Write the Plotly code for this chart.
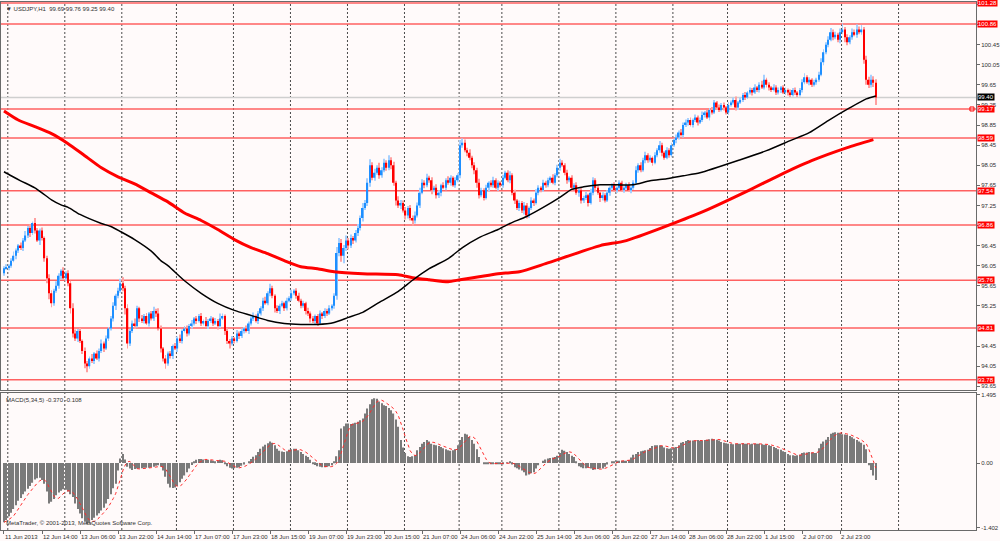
import numpy as np
import pandas as pd
import plotly.graph_objects as go

# USDJPY H1, one value per hourly bar (bar 0 = 11 Jun 22:00)
first_open = 95.90
closes = [
    96.00, 96.02, 96.05, 96.15, 96.25, 96.35, 96.45, 96.40, 96.55, 96.65,
    96.80, 96.70, 96.90, 96.75, 96.55, 96.75, 96.60, 96.20, 95.80, 95.50,
    95.30, 95.55, 95.65, 95.85, 95.95, 95.80, 95.90, 95.70, 95.20, 94.70,
    94.60, 94.75, 94.55, 94.35, 94.10, 94.05, 94.20, 94.15, 94.30, 94.20,
    94.35, 94.50, 94.40, 94.60, 94.80, 95.00, 95.25, 95.45, 95.55, 95.70,
    95.60, 95.20, 94.50, 94.75, 94.90, 94.85, 95.20, 95.00, 94.95, 95.05,
    94.90, 95.10, 95.00, 95.15, 95.10, 94.80, 94.40, 94.20, 94.10, 94.30,
    94.25, 94.45, 94.40, 94.60, 94.55, 94.75, 94.80, 94.70, 94.85, 94.90,
    95.00, 94.95, 95.05, 94.90, 94.95, 94.85, 94.95, 95.00, 94.90, 94.95,
    94.85, 95.00, 95.05, 94.75, 94.55, 94.50, 94.60, 94.55, 94.70, 94.65,
    94.75, 94.80, 94.75, 94.90, 95.00, 95.05, 94.95, 95.10, 95.20, 95.35,
    95.30, 95.50, 95.60, 95.45, 95.20, 95.15, 95.25, 95.30, 95.20, 95.35,
    95.40, 95.50, 95.55, 95.45, 95.35, 95.25, 95.30, 95.15, 95.10, 95.00,
    94.95, 95.05, 94.90, 95.10, 95.05, 95.15, 95.10, 95.20, 95.25, 95.45,
    96.30, 96.50, 96.25, 96.40, 96.55, 96.45, 96.60, 96.55, 96.70, 96.80,
    97.00, 97.20, 97.30, 97.70, 98.05, 97.80, 97.90, 98.00, 97.85, 97.95,
    98.10, 98.00, 98.15, 98.05, 97.70, 97.35, 97.25, 97.30, 97.15, 97.05,
    97.20, 97.00, 96.95, 97.05, 97.25, 97.50, 97.70, 97.65, 97.80, 97.75,
    97.55, 97.60, 97.45, 97.50, 97.65, 97.60, 97.75, 97.70, 97.80, 97.65,
    97.75, 97.85, 98.45, 98.50, 98.35, 98.30, 98.20, 98.05, 97.95, 97.70,
    97.45, 97.55, 97.40, 97.60, 97.70, 97.65, 97.75, 97.60, 97.70, 97.65,
    97.80, 97.90, 97.75, 97.85, 97.50, 97.35, 97.20, 97.30, 97.15, 97.25,
    97.05, 97.20, 97.35, 97.30, 97.50, 97.60, 97.55, 97.70, 97.65, 97.75,
    97.80, 97.70, 97.85, 98.00, 98.10, 98.05, 97.90, 97.75, 97.80, 97.60,
    97.65, 97.50, 97.55, 97.35, 97.40, 97.45, 97.30, 97.50, 97.75, 97.60,
    97.50, 97.40, 97.45, 97.35, 97.50, 97.60, 97.65, 97.55, 97.60, 97.70,
    97.55, 97.60, 97.65, 97.55, 97.60, 97.70, 97.95, 98.05, 97.95, 98.15,
    98.25, 98.15, 98.20, 98.10, 98.25, 98.35, 98.45, 98.30, 98.20, 98.35,
    98.25, 98.45, 98.55, 98.60, 98.70, 98.65, 98.85, 98.90, 98.95, 98.85,
    98.95, 99.00, 98.90, 98.95, 99.05, 99.10, 99.00, 99.15, 99.10, 99.30,
    99.20, 99.15, 99.25, 99.20, 99.10, 99.25, 99.30, 99.35, 99.20, 99.30,
    99.35, 99.45, 99.40, 99.50, 99.55, 99.50, 99.60, 99.55, 99.65, 99.60,
    99.75, 99.65, 99.60, 99.55, 99.60, 99.50, 99.55, 99.60, 99.50, 99.55,
    99.50, 99.45, 99.55, 99.50, 99.45, 99.55, 99.70, 99.80, 99.70, 99.75,
    99.65, 99.70, 99.75, 99.85, 100.10, 100.30, 100.45, 100.55, 100.70, 100.60,
    100.65, 100.55, 100.70, 100.75, 100.60, 100.50, 100.60, 100.70, 100.65, 100.75,
    100.70, 100.75, 100.15, 99.75, 99.65, 99.75, 99.69, 99.40,
]
# wick lengths in pips above / below the candle body
up_wick = [
    4, 6, 3, 5, 8, 4, 3, 6, 5, 9, 4, 7, 3, 10, 5, 4, 6, 3, 5, 8,
    6, 4, 9, 5, 3, 7, 4, 6, 5, 10, 8, 4, 6, 3, 7, 5, 4, 9, 3, 6,
    5, 8, 4, 6, 3, 5, 7, 4, 6, 9, 12, 5, 8, 4, 6, 10, 5, 3, 7, 4,
    6, 3, 5, 8, 4, 10, 6, 3, 7, 4, 5, 3, 6, 4, 8, 3, 5, 6, 4, 7,
    3, 5, 4, 6, 3, 8, 4, 5, 3, 6, 4, 10, 5, 3, 6, 4, 5, 3, 7, 4,
    5, 3, 6, 4, 5, 7, 3, 5, 4, 6, 8, 4, 9, 5, 3, 6, 4, 5, 3, 6,
    4, 7, 3, 5, 6, 4, 5, 3, 6, 4, 5, 3, 4, 6, 3, 5, 4, 6, 3, 5,
    12, 10, 8, 6, 10, 5, 7, 4, 6, 8, 5, 10, 6, 9, 12, 6, 8, 5, 10, 6,
    8, 5, 10, 6, 7, 4, 8, 6, 5, 7, 4, 6, 5, 8, 6, 10, 7, 5, 8, 4,
    6, 4, 7, 5, 3, 6, 4, 8, 5, 3, 6, 4, 10, 8, 6, 5, 7, 4, 6, 5,
    8, 5, 4, 6, 3, 5, 7, 4, 5, 3, 6, 4, 5, 8, 4, 6, 3, 5, 4, 7,
    5, 3, 6, 4, 7, 5, 3, 6, 4, 5, 3, 7, 4, 6, 8, 5, 4, 6, 3, 5,
    4, 6, 3, 5, 4, 7, 3, 8, 6, 4, 5, 3, 6, 4, 5, 3, 4, 6, 3, 5,
    4, 3, 5, 6, 3, 5, 8, 4, 6, 5, 7, 4, 5, 3, 6, 4, 8, 5, 3, 6,
    4, 5, 3, 6, 4, 7, 5, 6, 4, 5, 3, 6, 4, 5, 7, 3, 5, 4, 6, 5,
    3, 6, 4, 5, 3, 6, 4, 5, 7, 3, 5, 4, 6, 3, 5, 4, 6, 3, 5, 8,
    10, 4, 5, 3, 6, 4, 5, 3, 4, 5, 3, 6, 4, 5, 3, 4, 6, 8, 4, 5,
    3, 5, 4, 6, 8, 6, 5, 7, 8, 5, 6, 4, 7, 12, 5, 6, 4, 7, 5, 10,
    6, 9, 5, 8, 6, 10, 7, 7,
]
down_wick = [
    5, 3, 6, 4, 3, 7, 5, 4, 6, 3, 5, 8, 4, 6, 3, 9, 5, 7, 10, 12,
    8, 5, 4, 6, 7, 3, 5, 6, 10, 8, 5, 7, 4, 6, 9, 12, 5, 4, 6, 3,
    6, 4, 7, 3, 5, 4, 6, 8, 5, 4, 6, 12, 10, 5, 4, 6, 3, 7, 4, 5,
    3, 6, 4, 5, 7, 4, 8, 6, 10, 4, 5, 6, 3, 7, 4, 5, 3, 6, 4, 5,
    4, 6, 3, 5, 4, 3, 6, 4, 5, 3, 7, 4, 3, 8, 6, 10, 4, 5, 3, 6,
    4, 5, 3, 6, 4, 5, 3, 6, 4, 5, 3, 4, 6, 5, 8, 4, 6, 3, 5, 4,
    3, 5, 4, 6, 3, 5, 4, 7, 5, 8, 4, 6, 5, 3, 6, 4, 5, 3, 4, 6,
    8, 6, 12, 15, 6, 8, 5, 7, 4, 6, 5, 7, 4, 6, 8, 5, 6, 4, 7, 5,
    4, 6, 5, 8, 6, 10, 5, 7, 4, 8, 6, 5, 10, 6, 4, 5, 3, 6, 4, 5,
    8, 4, 6, 5, 7, 3, 5, 4, 6, 3, 5, 4, 6, 5, 4, 7, 5, 6, 8, 10,
    6, 4, 5, 3, 7, 4, 5, 3, 6, 4, 5, 3, 4, 6, 5, 7, 4, 6, 5, 8,
    6, 5, 4, 6, 3, 5, 4, 3, 5, 4, 6, 3, 5, 4, 6, 3, 5, 7, 4, 6,
    5, 4, 8, 6, 5, 4, 7, 3, 5, 6, 4, 8, 5, 4, 3, 6, 4, 3, 5, 4,
    3, 5, 4, 3, 6, 4, 3, 5, 4, 3, 6, 5, 4, 6, 3, 4, 5, 7, 4, 3,
    5, 4, 3, 6, 4, 3, 5, 4, 6, 3, 5, 4, 6, 3, 4, 5, 3, 6, 4, 3,
    5, 4, 3, 6, 4, 5, 3, 4, 6, 5, 3, 4, 5, 3, 4, 6, 3, 4, 5, 3,
    4, 5, 6, 4, 3, 5, 4, 6, 3, 5, 6, 4, 3, 5, 4, 3, 5, 4, 3, 6,
    4, 3, 5, 4, 3, 6, 4, 5, 3, 6, 4, 5, 7, 4, 10, 6, 4, 5, 3, 6,
    4, 5, 8, 10, 6, 5, 8, 15,
]
# MACD(5,34,5) main line, per bar
macd_main = [
    -1.29, -1.24, -1.16, -1.08, -1.00, -0.92, -0.82, -0.76, -0.68, -0.62,
    -0.56, -0.50, -0.43, -0.36, -0.33, -0.32, -0.37, -0.45, -0.62, -0.88,
    -0.84, -0.78, -0.70, -0.64, -0.60, -0.57, -0.58, -0.62, -0.68, -0.74,
    -0.88, -1.00, -1.10, -1.20, -1.28, -1.33, -1.30, -1.24, -1.19, -1.14,
    -1.09, -1.03, -0.97, -0.88, -0.78, -0.68, -0.55, -0.45, -0.16, 0.10,
    0.20, 0.08, -0.08, -0.12, -0.15, -0.13, -0.12, -0.12, -0.11, -0.10,
    -0.10, -0.10, -0.09, -0.08, -0.06, -0.05, -0.08, -0.16, -0.30, -0.45,
    -0.53, -0.54, -0.53, -0.50, -0.42, -0.34, -0.27, -0.20, -0.12, -0.04,
    0.02, 0.07, 0.09, 0.09, 0.08, 0.07, 0.07, 0.06, 0.05, 0.04,
    0.05, 0.07, 0.06, -0.02, -0.07, -0.10, -0.12, -0.11, -0.10, -0.09,
    -0.06, -0.03, 0.00, 0.04, 0.09, 0.14, 0.17, 0.24, 0.31, 0.36,
    0.40, 0.43, 0.47, 0.44, 0.39, 0.31, 0.27, 0.25, 0.24, 0.26,
    0.29, 0.30, 0.31, 0.31, 0.28, 0.24, 0.20, 0.16, 0.13, 0.07,
    -0.01, -0.04, -0.07, -0.08, -0.09, -0.09, -0.08, -0.07, -0.05, 0.02,
    0.15, 0.28, 0.75, 0.80, 0.86, 0.86, 0.85, 0.86, 0.88, 0.90,
    0.93, 0.97, 1.08, 1.19, 1.28, 1.39, 1.41, 1.40, 1.34, 1.30,
    1.26, 1.24, 1.20, 1.15, 1.08, 0.95, 0.79, 0.50, 0.34, 0.22,
    0.15, 0.13, 0.15, 0.17, 0.28, 0.35, 0.42, 0.46, 0.50, 0.47,
    0.42, 0.40, 0.39, 0.37, 0.35, 0.32, 0.30, 0.28, 0.27, 0.28,
    0.30, 0.39, 0.50, 0.57, 0.64, 0.62, 0.57, 0.50, 0.42, 0.30,
    0.13, 0.00, -0.01, -0.01, -0.01, -0.02, -0.01, -0.01, -0.01, -0.02,
    -0.01, 0.00, 0.01, 0.02, -0.03, -0.09, -0.11, -0.14, -0.16, -0.20,
    -0.27, -0.25, -0.22, -0.20, -0.12, -0.05, 0.00, 0.05, 0.08, 0.10,
    0.11, 0.12, 0.13, 0.16, 0.22, 0.29, 0.27, 0.24, 0.20, 0.16,
    0.13, 0.04, -0.07, -0.09, -0.11, -0.11, -0.10, -0.12, -0.15, -0.14,
    -0.13, -0.12, -0.12, -0.08, -0.03, 0.00, 0.03, 0.04, 0.05, 0.05,
    0.05, 0.05, 0.05, 0.06, 0.12, 0.18, 0.20, 0.24, 0.26, 0.27,
    0.28, 0.29, 0.33, 0.37, 0.39, 0.39, 0.39, 0.37, 0.34, 0.32,
    0.31, 0.32, 0.34, 0.35, 0.39, 0.44, 0.46, 0.48, 0.50, 0.49,
    0.49, 0.49, 0.50, 0.48, 0.49, 0.50, 0.51, 0.52, 0.53, 0.52,
    0.51, 0.49, 0.46, 0.44, 0.43, 0.42, 0.42, 0.41, 0.42, 0.42,
    0.42, 0.43, 0.42, 0.42, 0.41, 0.42, 0.42, 0.42, 0.42, 0.41,
    0.40, 0.40, 0.39, 0.37, 0.35, 0.33, 0.30, 0.29, 0.26, 0.24,
    0.20, 0.17, 0.17, 0.16, 0.17, 0.18, 0.22, 0.23, 0.23, 0.24,
    0.23, 0.22, 0.22, 0.32, 0.42, 0.47, 0.51, 0.57, 0.64, 0.66,
    0.67, 0.66, 0.65, 0.63, 0.62, 0.61, 0.59, 0.56, 0.53, 0.50,
    0.47, 0.44, 0.40, 0.30, -0.05, -0.15, -0.27, -0.37,
]

# moving averages (bar index, price)
ma_black_bars = [0, 3, 7, 13, 16, 20, 24, 27, 32, 41, 45, 49, 55, 62, 66, 69, 76, 83, 90, 97,
                 104, 111, 118, 125, 132, 139, 145, 151, 158, 166, 172, 179, 187, 193, 200, 208,
                 213, 220, 227, 234, 239, 244, 251, 258, 265, 272, 279, 286, 293, 310, 321, 331,
                 339, 347, 356, 363, 367]
ma_black_vals = [97.92, 97.84, 97.74, 97.60, 97.50, 97.36, 97.26, 97.21, 97.07, 96.89, 96.83,
                 96.73, 96.57, 96.34, 96.15, 96.05, 95.75, 95.50, 95.30, 95.16, 95.06, 94.96,
                 94.90, 94.88, 94.88, 94.92, 95.02, 95.12, 95.32, 95.54, 95.76, 95.99, 96.19,
                 96.41, 96.61, 96.77, 96.89, 97.03, 97.21, 97.41, 97.57, 97.62, 97.66, 97.66,
                 97.66, 97.74, 97.78, 97.84, 97.90, 98.16, 98.34, 98.54, 98.70, 98.94, 99.19,
                 99.37, 99.43]
ma_red_bars = [0, 6, 13, 20, 27, 34, 41, 48, 55, 62, 69, 76, 83, 90, 97, 104, 111, 118, 125,
               132, 139, 151, 166, 172, 179, 187, 192, 200, 208, 217, 228, 251, 262, 293, 314,
               326, 340, 355, 366]
ma_red_vals = [99.13, 98.95, 98.82, 98.68, 98.48, 98.24, 98.00, 97.82, 97.68, 97.50, 97.32,
               97.10, 96.95, 96.77, 96.57, 96.41, 96.29, 96.15, 96.03, 95.99, 95.93, 95.89,
               95.87, 95.81, 95.77, 95.73, 95.77, 95.83, 95.89, 95.93, 96.09, 96.45, 96.55,
               97.10, 97.56, 97.84, 98.14, 98.40, 98.56]

levels = [101.28, 100.86, 99.17, 98.59, 97.54, 96.86, 95.76, 94.81, 93.78]
bid = 99.40
price_ticks = [93.65, 94.05, 94.45, 94.85, 95.25, 95.65, 96.05, 96.45, 96.85, 97.25,
               97.65, 98.05, 98.45, 98.85, 99.25, 99.65, 100.05, 100.45, 100.85, 101.25]
# tick labels that sit fully under a level label in the terminal
hidden_ticks = [94.85, 96.85, 100.85, 101.25]
macd_ticks = [1.495, 0.0, -1.402]
macd_ticktext = ["1.495", "0.00", "-1.402"]
time_labels = ["11 Jun 2013", "12 Jun 14:00", "13 Jun 06:00", "13 Jun 22:00", "14 Jun 14:00",
               "17 Jun 07:00", "17 Jun 23:00", "18 Jun 15:00", "19 Jun 07:00", "19 Jun 23:00",
               "20 Jun 15:00", "21 Jun 07:00", "24 Jun 06:00", "24 Jun 22:00", "25 Jun 14:00",
               "26 Jun 06:00", "26 Jun 22:00", "27 Jun 14:00", "28 Jun 06:00", "28 Jun 22:00",
               "1 Jul 15:00", "2 Jul 07:00", "2 Jul 23:00"]
label_step = 16
day_start_bars = [2, 26, 50, 73, 97, 121, 145, 169, 192, 210, 234, 258, 282, 305, 329, 353, 377]

FONT = "Liberation Sans"
BG = "#fffafa"
TXT = "#303030"

n = min(len(closes), len(up_wick), len(down_wick), len(macd_main))
c = np.array(closes[:n])
o = np.array([first_open] + closes[:n - 1])
top = np.maximum(o, c)
bot = np.minimum(o, c)
hi = top + np.array(up_wick[:n]) / 100
lo = bot - np.array(down_wick[:n]) / 100
bull = c >= o
idx = np.arange(n)
signal = pd.Series(macd_main[:n]).rolling(5, min_periods=1).mean()

fig = go.Figure()
fig.add_trace(go.Bar(x=idx, y=hi - lo, base=lo, width=0.4,
                     marker=dict(color=np.where(bull, "#a6d0ff", "#ffa0a0"), line_width=0),
                     xaxis="x", yaxis="y", hoverinfo="skip"))
fig.add_trace(go.Bar(x=idx, y=np.maximum(top - bot, 0.006), base=bot, width=0.62,
                     marker=dict(color=np.where(bull, "#1e8fff", "#ff0000"), line_width=0),
                     xaxis="x", yaxis="y", hoverinfo="skip"))
fig.add_trace(go.Scatter(x=ma_red_bars, y=ma_red_vals, mode="lines",
                         line=dict(color="#ff0000", width=3, shape="spline", smoothing=0.6),
                         xaxis="x", yaxis="y"))
fig.add_trace(go.Scatter(x=ma_black_bars, y=ma_black_vals, mode="lines",
                         line=dict(color="#000000", width=1.5, shape="spline", smoothing=0.6),
                         xaxis="x", yaxis="y"))
fig.add_trace(go.Scatter(x=[407.5], y=[levels[2]], mode="markers",
                         marker=dict(symbol="square-open", size=4, color="#ff0000", line_width=1),
                         xaxis="x", yaxis="y"))
fig.add_trace(go.Bar(x=idx, y=macd_main[:n], width=0.5,
                     marker=dict(color="#7a7a7a", line_width=0),
                     xaxis="x2", yaxis="y2", hoverinfo="skip"))
fig.add_trace(go.Scatter(x=idx, y=signal, mode="lines",
                         line=dict(color="#ff2a2a", width=1, dash="dot"),
                         xaxis="x2", yaxis="y2"))

x_range = [-1.26, 409.2]
shapes = []
for b in day_start_bars:
    shapes.append(dict(type="line", xref="x", yref="paper", x0=b - 0.4, x1=b - 0.4, y0=0, y1=1,
                       line=dict(color="#4a4a4a", width=1, dash="2px,2px"), layer="below"))
for lv in levels:
    shapes.append(dict(type="line", xref="paper", yref="y", x0=0, x1=1, y0=lv, y1=lv,
                       line=dict(color="#ff6060", width=1.5), layer="below"))
shapes.append(dict(type="line", xref="paper", yref="y", x0=0, x1=1, y0=bid, y1=bid,
                   line=dict(color="#cfcfcf", width=1.5), layer="below"))

annotations = []
for lv in levels:
    annotations.append(dict(xref="paper", yref="y", x=1, y=lv, xanchor="left", xshift=1,
                            text=f"{lv:.2f}", showarrow=False, bgcolor="#ff0000", borderpad=0,
                            font=dict(family=FONT, size=6, color="#ffffff")))
annotations.append(dict(xref="paper", yref="y", x=1, y=bid, xanchor="left", xshift=1,
                        text=f"{bid:.2f}", showarrow=False, bgcolor="#000000", borderpad=0,
                        font=dict(family=FONT, size=6, color="#ffffff")))
for k, lab in enumerate(time_labels):
    annotations.append(dict(xref="x2", yref="paper", x=k * label_step, y=0, xanchor="left",
                            yanchor="top", yshift=-2, xshift=-1, text=lab, showarrow=False,
                            font=dict(family=FONT, size=6, color=TXT)))
annotations.append(dict(xref="paper", yref="paper", x=0.003, y=0.997, xanchor="left", yanchor="top",
                        text="▼ USDJPY,H1  99.69 99.76 99.25 99.40", showarrow=False,
                        font=dict(family=FONT, size=6, color=TXT)))
annotations.append(dict(xref="paper", yref="paper", x=0.003, y=0.255, xanchor="left", yanchor="top",
                        text="MACD(5,34,5) -0.370 -0.108", showarrow=False,
                        font=dict(family=FONT, size=6, color=TXT)))
annotations.append(dict(xref="paper", yref="paper", x=0.003, y=0.004, xanchor="left", yanchor="bottom",
                        text="MetaTrader, © 2001-2013, MetaQuotes Software Corp.", showarrow=False,
                        font=dict(family=FONT, size=6, color=TXT)))

axis_line = dict(showline=True, linecolor="#6a6a6a", linewidth=1, mirror=True,
                 showgrid=False, zeroline=False)
fig.update_layout(
    width=1000, height=541,
    margin=dict(l=0, r=23, t=1, b=11),
    paper_bgcolor=BG, plot_bgcolor=BG,
    showlegend=False, barmode="overlay",
    font=dict(family=FONT, size=6, color=TXT),
    xaxis=dict(domain=[0, 1], range=x_range, anchor="y", showticklabels=False, ticks="", **axis_line),
    xaxis2=dict(domain=[0, 1], range=x_range, anchor="y2", matches="x", showticklabels=False,
                tickmode="array", tickvals=[k * label_step for k in range(len(time_labels))],
                ticks="outside", ticklen=3, tickcolor="#6a6a6a", **axis_line),
    yaxis=dict(domain=[0.2647, 1], range=[93.57, 101.30], side="right", tickmode="array",
               tickvals=price_ticks,
               ticktext=["" if t in hidden_ticks else f"{t:.2f}" for t in price_ticks],
               ticks="outside", ticklen=3, tickcolor="#6a6a6a",
               tickfont=dict(family=FONT, size=6, color=TXT), **axis_line),
    yaxis2=dict(domain=[0, 0.259], range=[-1.457, 1.52], side="right", tickmode="array",
                tickvals=macd_ticks, ticktext=macd_ticktext,
                ticks="outside", ticklen=3, tickcolor="#6a6a6a",
                tickfont=dict(family=FONT, size=6, color=TXT), **axis_line),
    shapes=shapes, annotations=annotations,
)

# the page's default body margin would push the 1000px figure out of the window
fig.write_html("out.html", config={"displayModeBar": False},
               post_script="document.body.style.margin='0px';")
